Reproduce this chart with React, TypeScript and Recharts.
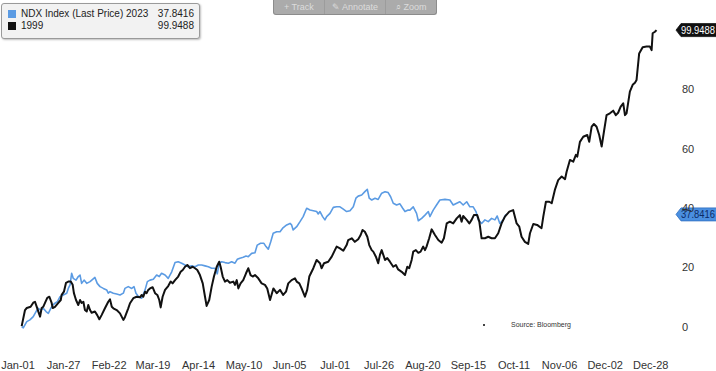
import React from "react";
import { LineChart, Line, XAxis, YAxis, ReferenceDot } from "recharts";

// Calendar-day positions (day 0 = Jan-01) of the x-axis labels
const tickDays = [0, 26, 52, 77, 103, 129, 155, 181, 206, 231, 257, 283, 309, 335, 361];
const tickLabels = ["Jan-01", "Jan-27", "Feb-22", "Mar-19", "Apr-14", "May-10", "Jun-05", "Jul-01", "Jul-26", "Aug-20", "Sep-15", "Oct-11", "Nov-06", "Dec-02", "Dec-28"];
const yTicks = [0, 20, 40, 60, 80];

// 1999 series (% change YTD)
const days1999 = [2.1,4.0,5.0,7.2,8.7,9.7,10.7,11.6,12.6,13.5,14.4,15.4,16.7,17.9,19.2,19.8,21.1,23.0,24.4,24.9,26.2,27.4,28.7,30.1,31.2,31.9,33.1,34.4,35.4,36.3,37.3,38.2,39.2,40.1,41.1,42.0,43.9,45.2,46.4,47.7,49.6,51.5,52.5,53.5,54.4,56.3,58.2,60.1,61.0,62.9,63.9,65.8,67.7,69.6,70.6,71.5,72.5,73.4,74.3,75.3,76.8,78.2,79.5,80.6,81.4,82.5,83.9,85.7,87.1,88.2,89.6,91.4,92.8,94.0,95.3,96.6,98.1,99.7,101.0,102.3,103.8,105.4,106.7,107.6,109.1,110.5,111.8,113.4,114.8,115.6,116.8,118.1,119.4,120.9,122.8,123.8,124.8,125.7,127.0,128.5,130.1,131.4,132.7,133.9,135.2,137.1,139.0,140.9,142.2,143.8,145.7,147.6,149.5,151.3,152.9,154.2,156.1,158.0,159.0,160.5,161.8,163.7,165.0,166.2,168.5,170.4,172.3,173.2,174.6,177.0,179.0,180.8,181.8,183.7,185.6,187.5,188.4,190.4,192.2,194.1,195.5,196.6,197.9,199.3,200.4,201.8,202.7,204.2,205.5,206.5,207.5,209.4,210.7,212.2,214.1,215.6,216.9,218.9,220.8,222.1,223.2,224.6,225.5,227.0,228.4,229.7,231.2,232.2,233.1,234.6,236.0,237.9,239.8,241.7,243.0,244.6,246.4,248.3,250.3,252.1,253.1,254.0,256.0,257.5,258.8,260.1,262.0,263.2,264.5,266.4,268.3,270.2,272.1,274.0,275.9,277.8,280.3,282.5,284.5,286.0,287.3,289.2,291.1,292.1,294.0,296.2,298.7,299.7,301.2,303.1,304.5,306.3,308.2,310.2,312.1,313.0,314.9,316.8,318.3,319.1,320.6,322.5,324.8,325.9,327.3,328.6,330.1,331.6,333.0,334.3,335.8,337.7,339.6,341.1,342.4,343.8,345.3,346.3,347.2,349.1,350.7,352.0,352.9,354.4,356.4,358.6,360.5,361.5,362.1,363.4,364.3];
const values1999 = [0.2,5.6,6.3,6.7,8.1,8.4,6.7,5.1,3.4,6.3,6.7,8.0,9.7,10.1,8.0,6.3,6.7,8.0,9.0,10.7,11.8,14.8,15.2,15.2,14.1,11.3,9.0,7.3,9.0,8.0,8.4,5.6,5.1,7.3,5.6,4.7,5.1,3.9,2.5,3.9,6.2,8.4,9.2,6.7,6.2,5.6,4.5,2.3,3.2,6.2,7.9,9.6,10.1,9.9,10.7,10.1,11.8,11.3,12.4,12.9,13.3,11.3,10.7,9.0,6.5,10.1,12.4,13.7,15.2,14.6,15.7,16.9,18.5,19.1,20.2,20.8,19.7,20.2,19.7,19.1,17.4,14.6,10.1,7.0,9.0,13.5,16.9,20.2,21.9,20.2,16.9,15.2,15.7,14.8,15.2,14.1,15.7,12.9,14.6,15.7,18.0,19.7,17.4,16.9,17.4,16.3,14.6,14.1,12.9,9.0,12.9,11.3,12.4,10.7,11.8,14.6,15.7,16.3,15.2,14.6,12.9,10.1,12.4,16.9,19.7,22.5,21.4,19.7,21.4,21.9,23.6,25.8,27.0,26.4,25.6,27.5,29.2,29.8,28.6,29.5,30.9,32.6,32.0,30.3,27.5,25.8,25.3,23.6,21.4,24.2,25.8,22.5,23.1,21.9,20.2,20.8,19.3,18.5,17.4,20.2,19.7,22.5,25.3,25.8,24.9,25.3,27.0,25.8,27.0,29.8,32.8,30.9,29.2,28.3,29.8,34.8,35.4,34.8,36.5,37.6,35.4,37.3,36.0,34.8,36.0,37.6,37.6,35.4,29.8,29.8,30.3,29.8,29.8,31.5,34.8,37.1,38.8,39.3,34.8,33.7,30.3,28.6,27.9,31.5,34.6,34.3,33.2,37.1,42.1,42.1,41.6,46.1,49.4,50.6,49.7,52.2,56.2,55.6,57.9,57.3,62.3,64.0,64.6,62.3,67.4,68.3,67.4,64.6,60.7,65.7,71.3,71.9,72.8,71.3,72.1,74.1,75.3,71.3,71.9,79.2,81.5,82.2,83.1,92.1,94.2,94.4,94.4,93.2,98.9,99.4,99.9488];

// 2023 series (% change YTD)
const days2023 = [2.1,3.0,5.0,6.8,8.7,10.3,11.6,12.9,14.4,16.0,17.3,18.7,19.8,21.1,22.4,24.0,25.8,27.8,28.7,29.7,30.6,31.5,33.1,34.4,35.4,36.3,37.7,39.2,41.1,43.9,45.2,46.8,48.7,50.6,51.5,52.5,54.4,56.3,58.2,60.1,61.0,62.9,64.9,66.2,67.3,68.6,70.6,72.5,73.8,75.3,77.2,79.1,80.6,81.9,83.9,85.7,87.7,89.6,91.4,93.4,95.3,97.1,99.1,101.0,102.9,104.8,106.7,108.6,110.5,112.4,113.7,114.8,116.2,118.1,120.0,121.9,123.8,125.1,126.6,128.5,130.1,131.4,133.3,135.2,136.5,138.4,140.3,141.5,142.8,144.2,145.6,147.6,149.5,151.0,153.3,155.2,156.1,157.0,159.0,160.9,162.7,164.7,166.6,168.5,170.4,171.3,172.3,173.8,175.1,176.1,178.0,179.9,181.8,183.7,185.6,187.5,189.4,191.3,192.8,194.1,196.1,197.9,199.3,200.4,201.8,203.7,205.5,207.5,209.4,211.2,212.6,214.1,216.0,217.9,219.5,220.8,222.6,223.6,225.5,227.4,228.4,230.3,232.2,234.1,235.0,236.9,238.8,240.7,243.6,246.4,248.3,250.3,252.1,254.0,256.0,257.8,259.7,261.3,262.6,264.5,266.4,268.3,270.2,272.1,273.4,274.9,276.8,278.4];
const values2023 = [0.0,-0.4,1.7,2.3,3.4,5.1,6.2,5.6,6.2,5.1,4.5,6.2,7.3,7.9,8.4,10.1,10.7,11.3,12.9,14.1,18.0,16.3,15.7,16.9,17.4,14.6,15.7,14.6,15.2,16.6,14.6,13.5,12.9,12.4,11.3,11.8,11.3,11.0,10.7,11.3,12.9,13.5,12.9,13.5,11.3,10.3,9.6,12.4,15.2,15.7,16.0,17.4,16.9,18.0,17.4,16.3,18.5,21.6,21.9,21.4,20.8,20.2,20.5,20.2,20.8,20.8,20.5,20.2,19.7,19.7,17.8,21.4,21.9,21.6,21.4,21.9,21.4,22.7,23.1,23.4,23.8,23.6,24.7,24.9,27.5,28.1,28.1,27.0,26.1,28.6,31.5,32.0,32.0,33.2,34.3,34.8,34.3,32.6,33.7,35.4,37.1,39.9,39.3,39.1,38.8,38.0,38.8,37.1,36.0,37.1,38.2,40.2,40.4,40.4,39.6,38.8,39.1,40.4,43.3,44.0,44.4,45.5,46.3,43.3,42.7,43.3,42.9,45.0,45.5,45.2,43.8,41.6,41.0,41.4,39.9,38.8,39.3,39.3,40.4,38.2,35.7,36.5,37.6,38.8,37.1,39.3,41.0,42.7,42.9,42.7,41.0,41.6,42.1,41.0,42.1,40.4,40.4,38.8,36.0,34.8,36.0,35.4,36.5,36.0,37.3,34.8,36.0,37.8416];

const seriesNames = ["NDX Index (Last Price) 2023", "1999"];
const seriesColors = ["#5b9be3", "#111111"];
const lastLabels = ["37.8416", "99.9488"];

const toRows = (days: number[], vals: number[]) => days.map((d, i) => ({ day: d, value: vals[i] }));
const data2023 = toRows(days2023, values2023);
const data1999 = toRows(days1999, values1999);
const series = [
  { name: seriesNames[0], color: seriesColors[0], data: data2023, last: values2023[values2023.length - 1], label: lastLabels[0], width: 1.6, tagFill: "#4a8fe0", tagStroke: "#2f6fc0", tagText: "#0d2a66" },
  { name: seriesNames[1], color: seriesColors[1], data: data1999, last: values1999[values1999.length - 1], label: lastLabels[1], width: 2, tagFill: "#111111", tagStroke: "#111111", tagText: "#ffffff" },
];

const FONT = "'Liberation Sans', Arial, sans-serif";

const makeTag = (fill: string, stroke: string, textColor: string, label: string) => (props: any) => {
  const { cx, cy } = props;
  const x0 = cx + 13;
  const h = 13;
  const path = `M ${x0} ${cy} L ${x0 + 5} ${cy - h / 2} L ${x0 + 60} ${cy - h / 2} L ${x0 + 60} ${cy + h / 2} L ${x0 + 5} ${cy + h / 2} Z`;
  return (
    <g>
      <path d={path} fill={fill} stroke={stroke} strokeWidth={0.8} />
      <text x={x0 + 5} y={cy + 3.5} fontSize={10} fontFamily={FONT} fill={textColor} textLength={34} lengthAdjust="spacingAndGlyphs">
        {label}
      </text>
    </g>
  );
};

export default function App() {
  return (
    <div style={{ position: "absolute", left: 0, top: 0, width: 716, height: 371, background: "#fff", overflow: "hidden" }}>
      <LineChart width={716} height={371} margin={{ top: 12.15, right: 13, left: 18, bottom: 0 }}>
        <XAxis
          dataKey="day"
          type="number"
          domain={[0, 368]}
          ticks={tickDays}
          tickFormatter={(v: number) => tickLabels[tickDays.indexOf(v)]}
          interval={0}
          axisLine={false}
          tickLine={false}
          tickSize={0}
          tickMargin={17}
          height={26.5}
          allowDataOverflow
          tick={{ fontSize: 11, fill: "#333", fontFamily: FONT }}
        />
        <YAxis
          orientation="right"
          type="number"
          domain={[-6, 106]}
          ticks={yTicks}
          allowDataOverflow
          axisLine={false}
          tickLine={false}
          tickSize={0}
          tickMargin={19}
          width={40}
          tick={{ fontSize: 11, fill: "#333", fontFamily: FONT }}
        />
        {series.map((s) => (
          <Line
            key={s.name}
            data={s.data}
            dataKey="value"
            type="linear"
            stroke={s.color}
            strokeWidth={s.width}
            dot={false}
            isAnimationActive={false}
            strokeLinejoin="round"
          />
        ))}
        {series.map((s) => (
          <ReferenceDot
            key={"tag-" + s.name}
            x={368}
            y={s.last}
            r={0}
            ifOverflow="visible"
            shape={makeTag(s.tagFill, s.tagStroke, s.tagText, s.label)}
          />
        ))}
      </LineChart>

      {/* Legend box */}
      <div
        style={{
          position: "absolute",
          left: 1,
          top: 3,
          width: 197,
          height: 34,
          background: "#f2f2f2",
          border: "1px solid #9a9a9a",
          borderRadius: 3,
          boxShadow: "1px 1px 2px rgba(0,0,0,0.25)",
          fontFamily: FONT,
          fontSize: 10,
          color: "#222",
        }}
      >
        {series.map((s, i) => (
          <div key={s.name} style={{ position: "absolute", left: 6, top: 4 + i * 12, width: 186, height: 12, lineHeight: "12px" }}>
            <span style={{ position: "absolute", left: 0, top: 2, width: 8, height: 8, background: s.color }} />
            <span style={{ position: "absolute", left: 13, top: 0, whiteSpace: "nowrap" }}>{s.name}</span>
            <span style={{ position: "absolute", right: 0, top: 0, whiteSpace: "nowrap" }}>{s.label}</span>
          </div>
        ))}
      </div>

      {/* Toolbar */}
      <div
        style={{
          position: "absolute",
          left: 273,
          top: 0,
          width: 162,
          height: 14,
          background: "#ababab",
          border: "1px solid #8c8c8c",
          borderTop: "none",
          borderRadius: "0 0 3px 3px",
          display: "flex",
          fontFamily: FONT,
          fontSize: 9,
          color: "#dcdcdc",
          lineHeight: "14px",
        }}
      >
        <div style={{ width: 50, textAlign: "center", borderRight: "1px solid #9c9c9c" }}>+ Track</div>
        <div style={{ width: 61, textAlign: "center", borderRight: "1px solid #9c9c9c" }}>✎ Annotate</div>
        <div style={{ width: 50, textAlign: "center" }}>⌕ Zoom</div>
      </div>

      {/* Source */}
      <div style={{ position: "absolute", left: 483, top: 324, width: 2, height: 2, background: "#444" }} />
      <div style={{ position: "absolute", left: 511, top: 321, fontFamily: FONT, fontSize: 7, color: "#333" }}>
        Source: Bloomberg
      </div>
    </div>
  );
}
